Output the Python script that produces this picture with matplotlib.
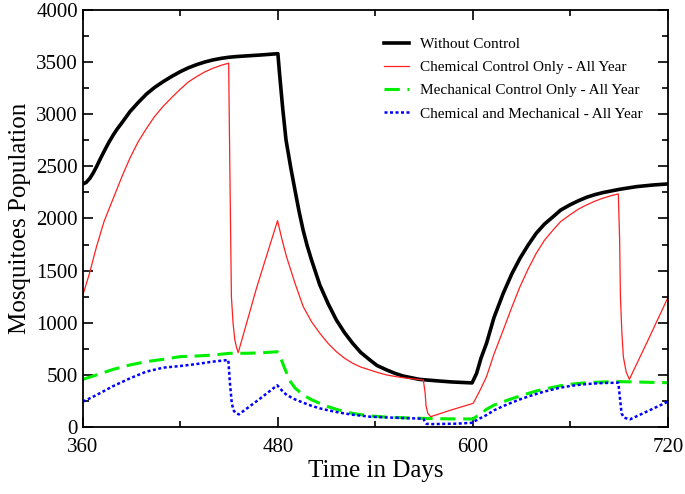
import numpy as np
import matplotlib
matplotlib.use('Agg')
import matplotlib.pyplot as plt
from matplotlib.ticker import MultipleLocator

# values
days_nc = [360, 362, 364.3, 366.5, 368.4, 371, 373.5, 376, 378.7, 381, 383.8, 386, 389, 394, 399,
           404, 409.4, 415, 420, 425, 430, 435, 440, 445, 450, 455, 461, 470, 480, 481, 483, 485,
           488, 490.5, 493, 495.5, 498, 500.7, 505.8, 511, 516, 521, 526, 531, 536.6, 541, 547,
           552, 557, 567, 577, 587, 599.5, 602.3, 605, 608.4, 613, 618.7, 624, 629, 634, 639, 644,
           649.4, 654, 659.7, 665, 670, 675, 680, 690.5, 700.7, 711, 720]
no_control = [2330, 2345, 2385, 2440, 2497, 2580, 2657, 2730, 2801, 2855, 2913, 2960, 3025, 3111,
              3191, 3255, 3312, 3365, 3408, 3445, 3475, 3500, 3520, 3535, 3546, 3553, 3559, 3568,
              3580, 3393, 3050, 2753, 2480, 2273, 2070, 1890, 1740, 1602, 1362, 1180, 1026, 905,
              803, 715, 643, 590, 547, 515, 489, 457, 444, 432, 423, 515, 660, 803, 1050, 1283,
              1470, 1618, 1745, 1858, 1945, 2017, 2080, 2130, 2170, 2203, 2228, 2248, 2280, 2305,
              2321, 2331]

days_chem = [360, 364, 368.4, 373, 378.7, 384, 389, 394, 399, 404, 409.4, 415, 420, 425, 430, 435,
             440, 445, 449.7, 450.5, 451.4, 452.4, 453.5, 454.6, 455.6, 467, 479.8, 482.5, 485.3,
             490.5, 495.6, 500.7, 505.8, 511, 516, 521, 526, 531, 536.6, 542, 547, 552, 557, 563,
             569.5, 570.6, 571.2, 572.3, 574, 587, 600.2, 604, 608.4, 613, 618.7, 624, 629, 634,
             639, 644, 649.4, 654, 659.7, 665, 670, 675, 680, 685, 689.5, 690.3, 690.8, 691.7,
             692.6, 694.3, 696.3, 708, 720]
chem_only = [1266, 1470, 1730, 1970, 2193, 2400, 2580, 2735, 2860, 2975, 3075, 3165, 3240, 3310,
             3360, 3405, 3440, 3468, 3489, 2400, 1250, 1000, 835, 760, 713, 1340, 1979, 1800,
             1634, 1380, 1154, 1010, 899, 800, 722, 660, 611, 575, 547, 520, 499, 485, 473, 462,
             451, 330, 200, 130, 99, 165, 227, 340, 483, 700, 930, 1150, 1346, 1515, 1666, 1790,
             1890, 1970, 2034, 2090, 2130, 2165, 2194, 2218, 2235, 1800, 1250, 900, 674, 530, 457,
             840, 1240]

days_mech = [360, 368.4, 378.7, 389, 399, 409.4, 420, 430, 440, 450.5, 461, 470, 479.6, 482,
             484, 486, 488, 490.5, 495.6, 500.7, 505.8, 511, 516, 521, 526, 536.6, 547, 557, 567,
             577, 588, 600, 604, 608.4, 613, 618.7, 624, 629, 634, 639, 644, 649.4, 654, 659.7,
             665, 670, 680, 690.5, 700.7, 710, 720]
mech_only = [457, 499, 553, 595, 627, 649, 675, 681, 690, 707, 707, 712, 722, 650, 570, 495, 430,
             375, 307, 262, 227, 195, 170, 148, 131, 106, 95, 89, 84, 80, 78, 77, 120, 170, 210,
             243, 272, 297, 322, 345, 364, 381, 396, 409, 418, 425, 432, 435, 432, 428, 425]

days_both = [360, 368.4, 378.7, 389, 399, 409.4, 420, 430, 440, 449.5, 450.5, 451.5, 452.5, 454,
             456, 468, 479.6, 482.5, 485.4, 490.5, 495.6, 500.7, 505.8, 511, 516, 521, 526, 536.6,
             547, 557, 569.5, 570.5, 571.5, 575, 590, 600, 601, 604, 608.4, 613, 618.7, 624, 629,
             634, 639, 644, 649.4, 654, 659.7, 665, 670, 680, 689.5, 690.5, 691.5, 693, 696.6, 708,
             720]
chem_mech = [243, 307, 393, 467, 531, 569, 585, 604, 627, 643, 420, 250, 163, 135, 121, 260, 400,
             350, 307, 265, 233, 203, 179, 160, 144, 130, 118, 99, 92, 86, 80, 50, 30, 28, 32, 41,
             55, 80, 115, 160, 201, 235, 265, 292, 317, 340, 361, 378, 393, 404, 412, 422, 425, 280,
             131, 90, 73, 155, 243]

plt.rcParams['font.family'] = ['Liberation Serif', 'DejaVu Serif']

fig = plt.figure(figsize=(6.85, 4.94), dpi=100)
ax = fig.add_axes([0.121, 0.1356, 0.854, 0.8444])

ax.plot(days_nc, no_control, color='black', lw=2.6, label='Without Control')
ax.plot(days_chem, chem_only, color='#ff2020', lw=0.9, label='Chemical Control Only - All Year')
ax.plot(days_mech, mech_only, color='#00ee00', lw=2.2, dashes=(5, 2.5),
        label='Mechanical Control Only - All Year')
ax.plot(days_both, chem_mech, color='#0000ff', lw=1.8, dashes=(1.2, 1.0),
        label='Chemical and Mechanical - All Year')

ax.set_xlim(360, 720)
ax.set_ylim(0, 4000)
ax.xaxis.set_major_locator(MultipleLocator(120))
ax.xaxis.set_minor_locator(MultipleLocator(60))
ax.yaxis.set_major_locator(MultipleLocator(500))
ax.yaxis.set_minor_locator(MultipleLocator(250))
ax.tick_params(which='both', direction='in', top=True, right=True, width=1.2, labelsize=15)
ax.tick_params(which='major', length=7)
ax.tick_params(which='minor', length=4)
ax.tick_params(axis='x', pad=8)
for s in ax.spines.values():
    s.set_linewidth(1.3)

ax.set_xlabel('Time in Days', fontsize=18, labelpad=2)
ax.set_ylabel('Mosquitoes Population', fontsize=18, labelpad=4)

ax.legend(loc='upper left', bbox_to_anchor=(0.514, 0.934), frameon=False, fontsize=11,
          handlelength=1.65, handletextpad=0.75, labelspacing=0.62, borderpad=0,
          borderaxespad=0)

fig.savefig('out.png', dpi=100)
